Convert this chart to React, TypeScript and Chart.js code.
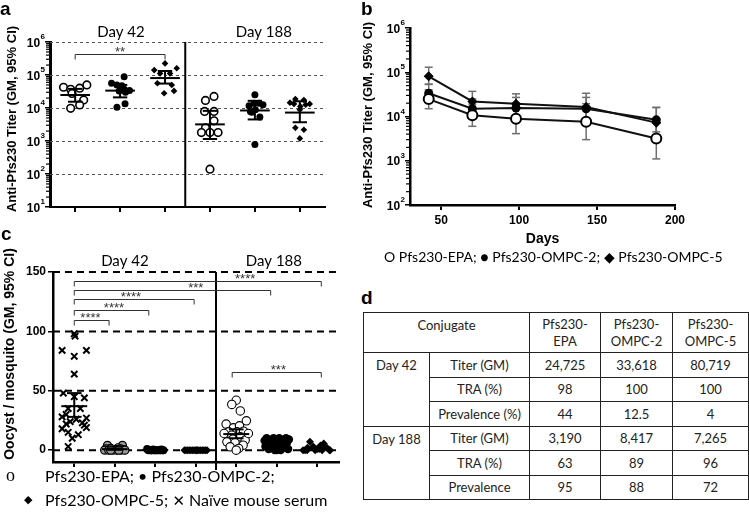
import React, { useEffect, useRef } from 'react';
import { Chart, registerables } from 'chart.js';
Chart.register(...registerables);

const BOLD = '"Liberation Sans", Arial, sans-serif';
const LATO = 'Lato, "Open Sans", sans-serif';

// ---------- Panel a : titers by group (log scale) ----------
const aGroupNames = ['Pfs230-EPA D42', 'Pfs230-OMPC-2 D42', 'Pfs230-OMPC-5 D42', 'Pfs230-EPA D188', 'Pfs230-OMPC-2 D188', 'Pfs230-OMPC-5 D188'];
const aCatX = [1, 2, 3, 4, 5, 6];
const aSeparatorX = 3.45;
const aEpa42 = [42500, 37000, 40000, 50000, 27700, 17500, 12400, 9800];
const aEpa42Jit = [-0.26, -0.1, 0.1, 0.26, -0.07, 0.19, 0.1, -0.1];
const aOmpc2_42 = [89000, 56000, 50000, 47000, 37000, 34000, 33000, 30000, 13500, 10500];
const aOmpc2_42Jit = [0.09, -0.19, -0.07, 0.04, 0.09, 0.21, -0.02, 0.12, 0.11, -0.07];
const aOmpc5_42 = [225000, 160000, 141000, 112000, 112000, 56000, 50000, 33000, 28000];
const aOmpc5_42Jit = [0, 0.26, -0.24, -0.11, 0.11, -0.17, 0.15, 0.2, -0.02];
const aEpa188 = [22500, 17000, 7900, 7900, 4100, 2500, 1800, 1800, 1800, 140];
const aEpa188Jit = [0.09, -0.1, -0.12, 0.09, 0.09, -0.1, -0.19, 0, 0.18, 0];
const aOmpc2_188 = [25000, 11700, 14000, 12600, 14000, 7900, 8900, 7400, 5300, 780];
const aOmpc2_188Jit = [0, -0.13, 0.09, 0.18, -0.02, -0.1, 0.01, -0.07, 0.11, 0];
const aOmpc5_188 = [18600, 17400, 14500, 13300, 13300, 12600, 11200, 8900, 2500, 2200, 1200];
const aOmpc5_188Jit = [-0.1, 0.09, -0.22, 0.22, -0.13, 0.13, 0.01, 0, -0.1, 0.09, 0];
const aGM = [24725, 33618, 80719, 3190, 8417, 7265];
const aCiLo = [15500, 21000, 55000, 1150, 4500, 3700];
const aCiHi = [38000, 50000, 132000, 8200, 16500, 16000];
const aYTicks = [10, 100, 1000, 10000, 100000, 1000000];
const aDayLabels = ['Day 42', 'Day 188'];
const aDayLabelX = [2.02, 5.2];
const aSigFrom = [1];
const aSigTo = [3];
const aSigY = [430000];
const aSigText = ['**'];

// ---------- Panel b : kinetics ----------
const bDays = [42, 70, 98, 143, 188];
const bEpaGM = [24725, 10700, 8900, 7600, 3190];
const bOmpc2GM = [33618, 15000, 15600, 15000, 8417];
const bOmpc5GM = [80719, 21900, 19400, 16300, 7265];
const bEpaLo = [15000, 6000, 4100, 3000, 1100];
const bEpaHi = [40000, 19000, 18000, 19500, 9000];
const bOmpc2Lo = [21000, 9000, 9000, 8000, 4500];
const bOmpc2Hi = [54000, 25000, 27000, 27000, 16000];
const bOmpc5Lo = [53000, 13000, 11000, 8000, 3700];
const bOmpc5Hi = [130000, 37000, 32500, 33500, 16000];
const bXTicks = [50, 100, 150, 200];
const bYTicks = [100, 1000, 10000, 100000, 1000000];

// ---------- Panel c : oocysts ----------
const cCatX = [1, 2, 3, 4, 5, 6, 7];
const cSeparatorX = 4.5;
const cNaive42 = [98, 96, 84, 84, 79, 64, 48, 45, 44, 35, 35, 30, 28, 27, 26, 24, 23, 22, 21, 19, 18, 15, 13, 10, 3];
const cNaive42Jit = [0, 0.02, -0.3, 0.3, 0, 0, -0.27, 0, 0.25, -0.15, 0.15, -0.2, -0.3, 0.3, 0.05, -0.1, 0.2, -0.2, 0.25, 0.3, -0.3, -0.15, 0.1, -0.05, -0.15];
const cEpa42 = [4, 4, 2, 1.5, 1, 1, 0.5, 0.5, 0, 0, 0, 0, 0, 0, 0, 0];
const cEpa42Jit = [-0.18, 0.19, 0.08, -0.1, 0.14, -0.22, 0.22, 0.03, -0.25, -0.15, -0.05, 0.05, 0.15, 0.25, -0.1, 0.1];
const cOmpc2_42 = [1, 0.5, 0.5, 0, 0, 0, 0, 0, 0, 0, 0, 0, 0, 0, 0];
const cOmpc2_42Jit = [-0.2, 0.15, -0.05, -0.17, -0.12, -0.08, -0.03, 0.02, 0.06, 0.1, 0.14, 0.18, 0.2, 0, -0.1];
const cOmpc5_42 = [0, 0, 0, 0, 0, 0, 0, 0, 0, 0, 0, 0, 0, 0, 0, 0];
const cOmpc5_42Jit = [-0.28, -0.24, -0.2, -0.16, -0.12, -0.08, -0.04, 0, 0.04, 0.08, 0.12, 0.16, 0.2, 0.24, 0.28, 0.02];
const cEpa188 = [42, 38.5, 33, 24.7, 21.9, 18.8, 20.5, 15.4, 15.4, 16, 12.6, 11.2, 9.3, 7, 6.2, 8.4, 4.2, 2.8, 1.4, 0, 14, 14];
const cEpa188Jit = [0, -0.11, 0.1, 0.25, -0.25, -0.07, 0.08, -0.19, 0.02, 0.18, -0.11, 0.1, -0.08, -0.23, -0.03, 0.22, 0.17, -0.15, 0.06, 0, -0.3, 0.3];
const cOmpc2_188 = [10, 10, 10, 10, 9, 8, 8, 7, 6, 6, 5, 5, 4, 4, 3, 3, 2, 2, 1, 1, 0, 0, 0];
const cOmpc2_188Jit = [-0.25, -0.08, 0.06, 0.23, 0.3, -0.3, 0.15, -0.15, 0, 0.25, -0.22, 0.1, -0.05, 0.2, -0.28, 0.05, -0.12, 0.15, -0.2, 0.28, -0.05, 0.1, 0];
const cOmpc5_188 = [7, 5.6, 4, 3, 2, 2, 1, 1, 0, 0, 0, 0, 0, 0, 0];
const cOmpc5_188Jit = [-0.18, 0.16, 0.08, -0.1, -0.24, 0.24, 0, 0.05, -0.35, -0.3, -0.25, 0.3, 0.32, 0.12, -0.05];
const cGM = [37, 0.8, 0.2, 0.1, 13.5, 4, 1.2];
const cCiLo = [28, 0.3, 0, 0, 10, 3, 0.5];
const cCiHi = [48, 1.5, 0.5, 0.3, 17.5, 5.5, 2];
const cYTicks = [0, 50, 100, 150];
const cDayLabels = ['Day 42', 'Day 188'];
const cDayLabelX = [2.25, 5.93];
const cSigFrom = [1, 1, 1, 1, 1, 4.9];
const cSigTo = [7.1, 5.85, 3.96, 2.84, 1.86, 7.1];
const cSigY = [142.3, 134.5, 126.9, 118.2, 109.2, 65.8];
const cSigText = ['****', '***', '****', '****', '****', '***'];
const cSigTextX = [5.22, 4.0, 2.4, 1.98, 1.4, 6.04];

// ---------- Panel d : table ----------
const tConjugates = ['Pfs230-EPA', 'Pfs230-OMPC-2', 'Pfs230-OMPC-5'];
const tDays = ['Day 42', 'Day 188'];
const tMeasures = [['Titer (GM)', 'TRA (%)', 'Prevalence (%)'], ['Titer (GM)', 'TRA (%)', 'Prevalence']];
const tValues = [
  [['24,725', '33,618', '80,719'], ['98', '100', '100'], ['44', '12.5', '4']],
  [['3,190', '8,417', '7,265'], ['63', '89', '96'], ['95', '88', '72']],
];

// ---------- helpers ----------
function line(ctx: CanvasRenderingContext2D, x1: number, y1: number, x2: number, y2: number) {
  ctx.beginPath();
  ctx.moveTo(x1, y1);
  ctx.lineTo(x2, y2);
  ctx.stroke();
}

function pts(vals: number[], jit: number[], cat: number) {
  return vals.map((v, i) => ({ x: cat + jit[i], y: v }));
}

function drawVTitle(ctx: CanvasRenderingContext2D, text: string, x: number, y: number, font: string) {
  ctx.save();
  ctx.translate(x, y);
  ctx.rotate(-Math.PI / 2);
  ctx.font = font;
  ctx.fillStyle = '#000';
  ctx.textAlign = 'center';
  ctx.textBaseline = 'middle';
  ctx.fillText(text, 0, 0);
  ctx.restore();
}

function drawPowLabels(ctx: CanvasRenderingContext2D, scale: any, xRight: number, values: number[]) {
  ctx.save();
  ctx.fillStyle = '#000';
  ctx.textAlign = 'right';
  ctx.textBaseline = 'alphabetic';
  values.forEach((v) => {
    const e = String(Math.round(Math.log10(v)));
    const y = scale.getPixelForValue(v);
    ctx.font = `bold 8px ${BOLD}`;
    const ew = ctx.measureText(e).width;
    ctx.fillText(e, xRight, y - 3);
    ctx.font = `bold 12px ${BOLD}`;
    ctx.fillText('10', xRight - ew - 0.5, y + 4.5);
  });
  ctx.restore();
}

function drawMinorLog(ctx: CanvasRenderingContext2D, scale: any, x: number, len: number) {
  ctx.save();
  ctx.strokeStyle = '#000';
  ctx.lineWidth = 1.2;
  const lo = Math.floor(Math.log10(scale.min));
  const hi = Math.ceil(Math.log10(scale.max));
  for (let d = lo; d < hi; d++) {
    for (let k = 2; k <= 9; k++) {
      const v = k * Math.pow(10, d);
      if (v <= scale.min || v >= scale.max) continue;
      const y = scale.getPixelForValue(v);
      line(ctx, x - len, y, x, y);
    }
  }
  ctx.restore();
}

function drawMeanCI(ctx: CanvasRenderingContext2D, xs: any, ys: any, cats: number[], gm: number[], lo: number[], hi: number[], halfMean: number, halfCap: number) {
  ctx.save();
  ctx.strokeStyle = '#000';
  ctx.lineWidth = 2;
  cats.forEach((c, i) => {
    const cx = xs.getPixelForValue(c);
    const mw = xs.getPixelForValue(c + halfMean) - cx;
    const cw = xs.getPixelForValue(c + halfCap) - cx;
    const my = ys.getPixelForValue(gm[i]);
    const ly = ys.getPixelForValue(lo[i]);
    const hy = ys.getPixelForValue(hi[i]);
    line(ctx, cx - mw, my, cx + mw, my);
    line(ctx, cx, ly, cx, hy);
    line(ctx, cx - cw, ly, cx + cw, ly);
    line(ctx, cx - cw, hy, cx + cw, hy);
  });
  ctx.restore();
}

function drawBrackets(ctx: CanvasRenderingContext2D, xs: any, ys: any, from: number[], to: number[], yv: number[], text: string[], textX: number[] | null) {
  ctx.save();
  ctx.strokeStyle = '#333';
  ctx.fillStyle = '#333';
  ctx.lineWidth = 1;
  ctx.font = `13px ${BOLD}`;
  ctx.textAlign = 'center';
  ctx.textBaseline = 'bottom';
  from.forEach((f, i) => {
    const x1 = xs.getPixelForValue(f);
    const x2 = xs.getPixelForValue(to[i]);
    const y = Math.round(ys.getPixelForValue(yv[i])) + 0.5;
    ctx.beginPath();
    ctx.moveTo(x1, y + 5);
    ctx.lineTo(x1, y);
    ctx.lineTo(x2, y);
    ctx.lineTo(x2, y + 5);
    ctx.stroke();
    const tx = textX ? xs.getPixelForValue(textX[i]) : (x1 + x2) / 2;
    ctx.fillText(text[i], tx, y + 4);
  });
  ctx.restore();
}

const commonOpts: any = {
  animation: false,
  responsive: false,
  events: [],
  plugins: { legend: { display: false }, tooltip: { enabled: false } },
};

// ---------- Panel A ----------
function PanelA() {
  const ref = useRef<HTMLCanvasElement>(null);
  useEffect(() => {
    const plugin = {
      id: 'panelA',
      beforeDatasetsDraw(chart: any) {
        const { ctx, chartArea: ca, scales } = chart;
        const x = scales.x, y = scales.y;
        ctx.save();
        ctx.strokeStyle = '#555';
        ctx.lineWidth = 1;
        ctx.setLineDash([3, 3]);
        aYTicks.forEach((v) => {
          if (v <= y.min) return;
          const py = Math.round(y.getPixelForValue(v)) + 0.5;
          line(ctx, ca.left, py, ca.right, py);
        });
        ctx.setLineDash([]);
        ctx.strokeStyle = '#000';
        ctx.lineWidth = 2;
        const sx = x.getPixelForValue(aSeparatorX);
        line(ctx, sx, ca.top, sx, ca.bottom);
        ctx.restore();
      },
      afterDatasetsDraw(chart: any) {
        const { ctx, chartArea: ca, scales } = chart;
        const x = scales.x, y = scales.y;
        drawMeanCI(ctx, x, y, aCatX, aGM, aCiLo, aCiHi, 0.33, 0.16);
        drawBrackets(ctx, x, y, aSigFrom, aSigTo, aSigY, aSigText, null);
        drawMinorLog(ctx, y, ca.left - 1, 3);
        drawPowLabels(ctx, y, ca.left - 5, aYTicks);
        ctx.save();
        ctx.fillStyle = '#000';
        ctx.font = `15px ${LATO}`;
        ctx.textAlign = 'center';
        ctx.textBaseline = 'middle';
        aDayLabels.forEach((t, i) => ctx.fillText(t, x.getPixelForValue(aDayLabelX[i]), ca.top - 10));
        ctx.restore();
        drawVTitle(ctx, 'Anti-Pfs230 Titer (GM, 95% CI)', 12, 119, `bold 13px ${BOLD}`);
      },
    };
    const chart = new Chart(ref.current as HTMLCanvasElement, {
      type: 'scatter',
      data: {
        datasets: [
          { label: aGroupNames[0], data: pts(aEpa42, aEpa42Jit, aCatX[0]), pointStyle: 'circle', pointRadius: 3.8, pointBackgroundColor: '#fff', pointBorderColor: '#000', pointBorderWidth: 1.6 },
          { label: aGroupNames[1], data: pts(aOmpc2_42, aOmpc2_42Jit, aCatX[1]), pointStyle: 'circle', pointRadius: 3.5, pointBackgroundColor: '#000', pointBorderColor: '#000', pointBorderWidth: 0 },
          { label: aGroupNames[2], data: pts(aOmpc5_42, aOmpc5_42Jit, aCatX[2]), pointStyle: 'rectRot', pointRadius: 3.3, pointBackgroundColor: '#000', pointBorderColor: '#000', pointBorderWidth: 0 },
          { label: aGroupNames[3], data: pts(aEpa188, aEpa188Jit, aCatX[3]), pointStyle: 'circle', pointRadius: 3.8, pointBackgroundColor: '#fff', pointBorderColor: '#000', pointBorderWidth: 1.6 },
          { label: aGroupNames[4], data: pts(aOmpc2_188, aOmpc2_188Jit, aCatX[4]), pointStyle: 'circle', pointRadius: 3.5, pointBackgroundColor: '#000', pointBorderColor: '#000', pointBorderWidth: 0 },
          { label: aGroupNames[5], data: pts(aOmpc5_188, aOmpc5_188Jit, aCatX[5]), pointStyle: 'rectRot', pointRadius: 3.3, pointBackgroundColor: '#000', pointBorderColor: '#000', pointBorderWidth: 0 },
        ],
      },
      options: {
        ...commonOpts,
        layout: { padding: { left: 0, top: 42, right: 10, bottom: 0 } },
        scales: {
          x: {
            type: 'linear', min: 0.44, max: 6.56,
            afterBuildTicks: (s: any) => { s.ticks = aCatX.map((v) => ({ value: v })); },
            afterFit: (s: any) => { s.height = 23; },
            ticks: { display: false },
            grid: { drawOnChartArea: false, drawTicks: true, tickLength: 5, color: '#000', lineWidth: 2 },
            border: { display: true, color: '#000', width: 2 },
          },
          y: {
            type: 'logarithmic', min: 10, max: 1000000,
            afterBuildTicks: (s: any) => { s.ticks = aYTicks.map((v) => ({ value: v })); },
            afterFit: (s: any) => { s.width = 50; },
            ticks: { display: false },
            grid: { drawOnChartArea: false, drawTicks: true, tickLength: 5, color: '#000', lineWidth: 1.5 },
            border: { display: true, color: '#000', width: 3 },
          },
        },
      },
      plugins: [plugin],
    } as any);
    return () => chart.destroy();
  }, []);
  return <canvas ref={ref} width={335} height={230} style={{ position: 'absolute', left: 0, top: 0 }} />;
}

// ---------- Panel B ----------
function PanelB() {
  const ref = useRef<HTMLCanvasElement>(null);
  useEffect(() => {
    const bars = [
      [bEpaLo, bEpaHi],
      [bOmpc2Lo, bOmpc2Hi],
      [bOmpc5Lo, bOmpc5Hi],
    ];
    const plugin = {
      id: 'panelB',
      beforeDatasetsDraw(chart: any) {
        const { ctx, scales } = chart;
        const x = scales.x, y = scales.y;
        ctx.save();
        ctx.strokeStyle = '#6e6e6e';
        ctx.lineWidth = 1.5;
        bars.forEach(([lo, hi]) => {
          bDays.forEach((d, i) => {
            const px = x.getPixelForValue(d);
            const ly = y.getPixelForValue(lo[i]);
            const hy = y.getPixelForValue(hi[i]);
            line(ctx, px, ly, px, hy);
            line(ctx, px - 4, ly, px + 4, ly);
            line(ctx, px - 4, hy, px + 4, hy);
          });
        });
        ctx.restore();
      },
      afterDraw(chart: any) {
        const { ctx, chartArea: ca, scales } = chart;
        const y = scales.y;
        drawMinorLog(ctx, y, ca.left - 1, 3);
        drawPowLabels(ctx, y, ca.left - 5, bYTicks);
        drawVTitle(ctx, 'Anti-Pfs230 Titer (GM, 95% CI)', 8, 115, `bold 13px ${BOLD}`);
        ctx.save();
        ctx.font = `bold 14px ${BOLD}`;
        ctx.fillStyle = '#000';
        ctx.textAlign = 'center';
        ctx.textBaseline = 'middle';
        ctx.fillText('Days', (ca.left + ca.right) / 2, 239);
        ctx.restore();
      },
    };
    const lineDs = (label: string, gm: number[], style: string, r: number, fill: string) => ({
      label,
      data: bDays.map((d, i) => ({ x: d, y: gm[i] })),
      showLine: true,
      borderColor: '#111',
      borderWidth: 2,
      pointStyle: style,
      pointRadius: r,
      pointBackgroundColor: fill,
      pointBorderColor: '#000',
      pointBorderWidth: fill === '#fff' ? 2 : 0,
    });
    const chart = new Chart(ref.current as HTMLCanvasElement, {
      type: 'scatter',
      data: {
        datasets: [
          lineDs('Pfs230-EPA', bEpaGM, 'circle', 5, '#fff'),
          lineDs('Pfs230-OMPC-2', bOmpc2GM, 'circle', 4.5, '#000'),
          lineDs('Pfs230-OMPC-5', bOmpc5GM, 'rectRot', 5, '#000'),
        ],
      },
      options: {
        ...commonOpts,
        layout: { padding: { left: 0, top: 28, right: 74, bottom: 0 } },
        scales: {
          x: {
            type: 'linear', min: 30, max: 200,
            afterBuildTicks: (s: any) => { s.ticks = bXTicks.map((v) => ({ value: v })); },
            afterFit: (s: any) => { s.height = 45; },
            ticks: { color: '#000', font: { family: BOLD, size: 12, weight: 'bold' }, padding: 3, maxRotation: 0 },
            grid: { drawOnChartArea: false, drawTicks: true, tickLength: 5, color: '#000', lineWidth: 2 },
            border: { display: true, color: '#000', width: 2.5 },
          },
          y: {
            type: 'logarithmic', min: 100, max: 1000000,
            afterBuildTicks: (s: any) => { s.ticks = bYTicks.map((v) => ({ value: v })); },
            afterFit: (s: any) => { s.width = 50; },
            ticks: { display: false },
            grid: { drawOnChartArea: false, drawTicks: true, tickLength: 5, color: '#000', lineWidth: 1.5 },
            border: { display: true, color: '#000', width: 2.5 },
          },
        },
      },
      plugins: [plugin],
    } as any);
    return () => chart.destroy();
  }, []);
  return <canvas ref={ref} width={389} height={250} style={{ position: 'absolute', left: 360, top: 0 }} />;
}

// ---------- Panel C ----------
function PanelC() {
  const ref = useRef<HTMLCanvasElement>(null);
  useEffect(() => {
    const plugin = {
      id: 'panelC',
      beforeDatasetsDraw(chart: any) {
        const { ctx, chartArea: ca, scales } = chart;
        const x = scales.x, y = scales.y;
        ctx.save();
        ctx.strokeStyle = '#000';
        ctx.lineWidth = 2;
        ctx.setLineDash([7, 5]);
        cYTicks.forEach((v) => {
          const py = y.getPixelForValue(v);
          line(ctx, ca.left, py, ca.right, py);
        });
        ctx.setLineDash([]);
        const sx = x.getPixelForValue(cSeparatorX);
        line(ctx, sx, ca.top, sx, ca.bottom + 8);
        ctx.restore();
      },
      afterDatasetsDraw(chart: any) {
        const { ctx, chartArea: ca, scales } = chart;
        const x = scales.x, y = scales.y;
        drawMeanCI(ctx, x, y, cCatX, cGM, cCiLo, cCiHi, 0.32, 0.18);
        drawBrackets(ctx, x, y, cSigFrom, cSigTo, cSigY, cSigText, cSigTextX);
        ctx.save();
        ctx.fillStyle = '#000';
        ctx.font = `15px ${LATO}`;
        ctx.textAlign = 'center';
        ctx.textBaseline = 'middle';
        cDayLabels.forEach((t, i) => ctx.fillText(t, x.getPixelForValue(cDayLabelX[i]), ca.top - 11));
        ctx.restore();
        drawVTitle(ctx, 'Oocyst / mosquito (GM, 95% CI)', 10, 124, `bold 14px ${BOLD}`);
      },
    };
    const chart = new Chart(ref.current as HTMLCanvasElement, {
      type: 'scatter',
      data: {
        datasets: [
          { label: 'Naïve mouse serum D42', data: pts(cNaive42, cNaive42Jit, cCatX[0]), pointStyle: 'crossRot', pointRadius: 4.5, pointBorderColor: '#000', pointBorderWidth: 2 },
          { label: 'Pfs230-EPA D42', data: pts(cEpa42, cEpa42Jit, cCatX[1]), pointStyle: 'circle', pointRadius: 4, pointBackgroundColor: '#9a9a9a', pointBorderColor: '#000', pointBorderWidth: 1.2 },
          { label: 'Pfs230-OMPC-2 D42', data: pts(cOmpc2_42, cOmpc2_42Jit, cCatX[2]), pointStyle: 'circle', pointRadius: 4, pointBackgroundColor: '#000', pointBorderWidth: 0 },
          { label: 'Pfs230-OMPC-5 D42', data: pts(cOmpc5_42, cOmpc5_42Jit, cCatX[3]), pointStyle: 'rectRot', pointRadius: 4, pointBackgroundColor: '#000', pointBorderWidth: 0 },
          { label: 'Pfs230-EPA D188', data: pts(cEpa188, cEpa188Jit, cCatX[4]), pointStyle: 'circle', pointRadius: 4.2, pointBackgroundColor: '#fff', pointBorderColor: '#000', pointBorderWidth: 1.1 },
          { label: 'Pfs230-OMPC-2 D188', data: pts(cOmpc2_188, cOmpc2_188Jit, cCatX[5]), pointStyle: 'circle', pointRadius: 4.2, pointBackgroundColor: '#000', pointBorderWidth: 0 },
          { label: 'Pfs230-OMPC-5 D188', data: pts(cOmpc5_188, cOmpc5_188Jit, cCatX[6]), pointStyle: 'rectRot', pointRadius: 4, pointBackgroundColor: '#000', pointBorderWidth: 0 },
        ],
      },
      options: {
        ...commonOpts,
        layout: { padding: { left: 0, top: 42, right: 5, bottom: 0 } },
        scales: {
          x: {
            type: 'linear', min: 0.475, max: 7.525,
            afterBuildTicks: (s: any) => { s.ticks = cCatX.map((v) => ({ value: v })); },
            afterFit: (s: any) => { s.height = 18; },
            ticks: { display: false },
            grid: { drawOnChartArea: false, drawTicks: true, tickLength: 5, color: '#000', lineWidth: 2 },
            border: { display: true, color: '#000', width: 2.5 },
          },
          y: {
            type: 'linear', min: -10, max: 150,
            afterBuildTicks: (s: any) => { s.ticks = cYTicks.map((v) => ({ value: v })); },
            afterFit: (s: any) => { s.width = 53; },
            ticks: { color: '#000', font: { family: BOLD, size: 12, weight: 'bold' }, padding: 2 },
            grid: { drawOnChartArea: false, drawTicks: true, tickLength: 5, color: '#000', lineWidth: 1.5 },
            border: { display: true, color: '#000', width: 2.5 },
          },
        },
      },
      plugins: [plugin],
    } as any);
    return () => chart.destroy();
  }, []);
  return <canvas ref={ref} width={345} height={250} style={{ position: 'absolute', left: 0, top: 230 }} />;
}

// ---------- Table D ----------
function TableD() {
  const cell: React.CSSProperties = { border: '1px solid #222', textAlign: 'center', padding: 0, verticalAlign: 'middle' };
  return (
    <table
      style={{
        position: 'absolute', left: 363, top: 312, width: 385, borderCollapse: 'collapse', tableLayout: 'fixed',
        fontFamily: LATO, fontSize: 13, color: '#222', border: '1.5px solid #111',
      }}
    >
      <colgroup>
        <col style={{ width: 66 }} />
        <col style={{ width: 100 }} />
        <col style={{ width: 71 }} />
        <col style={{ width: 72 }} />
        <col style={{ width: 76 }} />
      </colgroup>
      <tbody>
        <tr style={{ height: 40 }}>
          <td colSpan={2} style={{ ...cell, verticalAlign: 'top', paddingTop: 4, lineHeight: '16px' }}>Conjugate</td>
          {tConjugates.map((c) => {
            const k = c.indexOf('-');
            return (
              <td key={c} style={{ ...cell, lineHeight: '17px' }}>
                {c.slice(0, k + 1)}
                <br />
                {c.slice(k + 1)}
              </td>
            );
          })}
        </tr>
        {tDays.map((d, di) =>
          tMeasures[di].map((m, mi) => (
            <tr key={d + m} style={{ height: 24.5 }}>
              {mi === 0 && (
                <td rowSpan={3} style={{ ...cell, verticalAlign: 'top', paddingTop: 4, lineHeight: '16px' }}>{d}</td>
              )}
              <td style={cell}>{m}</td>
              {tValues[di][mi].map((v, vi) => (
                <td key={vi} style={cell}>{v}</td>
              ))}
            </tr>
          ))
        )}
      </tbody>
    </table>
  );
}

const panelLetter = (left: number, top: number): React.CSSProperties => ({
  position: 'absolute', left, top, fontFamily: BOLD, fontWeight: 'bold', fontSize: 19, lineHeight: '20px', color: '#000',
});

export default function App() {
  return (
    <div style={{ position: 'fixed', left: 0, top: 0, width: 749, height: 517, background: '#fff', overflow: 'hidden' }}>
      <PanelA />
      <PanelB />
      <PanelC />
      <TableD />
      <div style={panelLetter(0, -1)}>a</div>
      <div style={panelLetter(361, -1)}>b</div>
      <div style={panelLetter(1, 224)}>c</div>
      <div style={panelLetter(361, 288)}>d</div>
      <div style={{ position: 'absolute', left: 384, top: 248, fontFamily: LATO, fontSize: 14, lineHeight: '17px', whiteSpace: 'nowrap', color: '#000' }}>
        O Pfs230-EPA; ● Pfs230-OMPC-2; ◆ Pfs230-OMPC-5
      </div>
      <div style={{ position: 'absolute', left: 6, top: 465, fontFamily: '"Liberation Serif", serif', fontSize: 18, lineHeight: '20px' }}>o</div>
      <div style={{ position: 'absolute', left: 45, top: 466, fontFamily: LATO, fontSize: 16, lineHeight: '20px', whiteSpace: 'nowrap' }}>
        Pfs230-EPA; • Pfs230-OMPC-2;
      </div>
      <div style={{ position: 'absolute', left: 24, top: 490, fontFamily: '"DejaVu Sans", sans-serif', fontSize: 11, lineHeight: '20px' }}>◆</div>
      <div style={{ position: 'absolute', left: 45, top: 490, fontFamily: LATO, fontSize: 16, lineHeight: '20px', whiteSpace: 'nowrap' }}>
        Pfs230-OMPC-5; <b style={{ fontFamily: '"DejaVu Sans", sans-serif', fontSize: 15 }}>✕</b> Naïve mouse serum
      </div>
    </div>
  );
}
